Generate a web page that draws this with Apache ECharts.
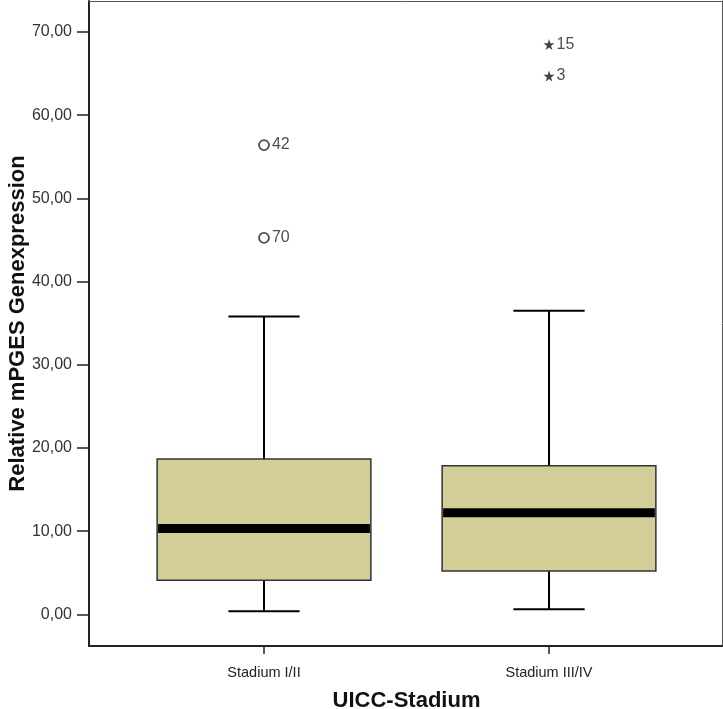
<!DOCTYPE html>
<html>
<head>
<meta charset="utf-8">
<script src="https://cdn.jsdelivr.net/npm/echarts@6/dist/echarts.min.js"></script>
<style>
  html, body { margin: 0; padding: 0; background: #fff; }
  #chart { width: 723px; height: 709px; }
</style>
</head>
<body>
<div id="chart"></div>
<script>
// Box summary per UICC stage
const categories = ['Stadium I/II', 'Stadium III/IV'];
const lowWhisker = [0.36, 0.6];
const q1 = [4.09, 5.2];
const median = [10.3, 12.2];
const q3 = [18.67, 17.85];
const highWhisker = [35.8, 36.5];

// Outlying cases (circle = outlier, star = extreme value)
const outlierCat = [0, 0, 1, 1];
const outlierVal = [56.4, 45.25, 68.5, 64.7];
const outlierId = ['42', '70', '15', '3'];
const outlierKind = ['circle', 'circle', 'star', 'star'];

const yTicks = [0, 10, 20, 30, 40, 50, 60, 70];

const FONT = '"Liberation Sans", Arial, sans-serif';
const STAR = 'path://M50,0 L61,35 L98,35 L68,57 L79,91 L50,70 L21,91 L32,57 L2,35 L39,35 Z';

const boxData = categories.map((c, i) => [i, lowWhisker[i], q1[i], median[i], q3[i], highWhisker[i]]);

function renderBox(params, api) {
  const idx = api.value(0);
  const band = api.size([1, 0])[0];
  const boxW = band * 0.75;
  const capW = band * 0.25;
  const pLow = api.coord([idx, api.value(1)]);
  const pQ1 = api.coord([idx, api.value(2)]);
  const pMed = api.coord([idx, api.value(3)]);
  const pQ3 = api.coord([idx, api.value(4)]);
  const pHigh = api.coord([idx, api.value(5)]);
  const cx = pQ1[0];
  const lineStyle = { stroke: '#000', lineWidth: 2, fill: null };
  return {
    type: 'group',
    children: [
      { type: 'line', shape: { x1: cx, y1: pQ3[1], x2: cx, y2: pHigh[1] }, style: lineStyle },
      { type: 'line', shape: { x1: cx, y1: pQ1[1], x2: cx, y2: pLow[1] }, style: lineStyle },
      { type: 'line', shape: { x1: cx - capW / 2, y1: pHigh[1], x2: cx + capW / 2, y2: pHigh[1] }, style: lineStyle },
      { type: 'line', shape: { x1: cx - capW / 2, y1: pLow[1], x2: cx + capW / 2, y2: pLow[1] }, style: lineStyle },
      {
        type: 'rect',
        shape: { x: cx - boxW / 2, y: pQ3[1], width: boxW, height: pQ1[1] - pQ3[1] },
        style: { fill: '#d3ce98', stroke: '#333', lineWidth: 1.5 }
      },
      {
        type: 'line',
        shape: { x1: cx - boxW / 2 + 1, y1: pMed[1], x2: cx + boxW / 2 - 1, y2: pMed[1] },
        style: { stroke: '#000', lineWidth: 9 }
      }
    ]
  };
}

const circleData = [];
const starData = [];
outlierVal.forEach((v, i) => {
  const item = { value: [outlierCat[i], v], name: outlierId[i] };
  (outlierKind[i] === 'circle' ? circleData : starData).push(item);
});

const outlierLabel = {
  show: true,
  position: 'right',
  distance: 2,
  formatter: p => p.name,
  fontFamily: FONT,
  fontSize: 16,
  color: '#222'
};

const chart = echarts.init(document.getElementById('chart'), null, { renderer: 'canvas' });
chart.setOption({
  animation: false,
  backgroundColor: '#fff',
  grid: [
    // outer frame of the plotting region
    { left: 89, top: 1, width: 633, height: 645, containLabel: false, outerBoundsMode: 'none' },
    // data region, categories centred on their ticks
    { left: 121.5, top: 1, width: 570, height: 645, containLabel: false, outerBoundsMode: 'none' }
  ],
  xAxis: [
    {
      gridIndex: 0, type: 'value', min: 0, max: 1, position: 'bottom',
      axisLine: { show: true, onZero: false, lineStyle: { color: '#222', width: 2 } },
      axisTick: { show: false }, axisLabel: { show: false }, splitLine: { show: false }
    },
    {
      gridIndex: 0, type: 'value', min: 0, max: 1, position: 'top',
      axisLine: { show: true, onZero: false, lineStyle: { color: '#555', width: 1 } },
      axisTick: { show: false }, axisLabel: { show: false }, splitLine: { show: false }
    },
    {
      gridIndex: 1, type: 'category', data: categories, boundaryGap: true, position: 'bottom',
      axisLine: { show: false, onZero: false },
      axisTick: { show: true, alignWithLabel: true, length: 8, lineStyle: { color: '#222', width: 1.5 } },
      axisLabel: { margin: 19, fontFamily: FONT, fontSize: 14.5, color: '#222' },
      splitLine: { show: false },
      name: 'UICC-Stadium', nameLocation: 'middle', nameGap: 44, nameMoveOverlap: false,
      nameTextStyle: { fontFamily: FONT, fontSize: 22, fontWeight: 'bold', color: '#111' }
    }
  ],
  yAxis: [
    {
      gridIndex: 0, type: 'value', min: 0, max: 1, position: 'right',
      axisLine: { show: true, onZero: false, lineStyle: { color: '#555', width: 1 } },
      axisTick: { show: false }, axisLabel: { show: false }, splitLine: { show: false }
    },
    {
      gridIndex: 1, type: 'value', min: -3.81, max: 73.72, offset: 32.5, position: 'left',
      axisLine: { show: true, onZero: false, lineStyle: { color: '#222', width: 2 } },
      axisTick: { show: true, length: 12, customValues: yTicks, lineStyle: { color: '#222', width: 1.5 } },
      axisLabel: {
        customValues: yTicks, margin: 17, fontFamily: FONT, fontSize: 16, color: '#333',
        formatter: v => v.toFixed(2).replace('.', ',')
      },
      splitLine: { show: false },
      name: 'Relative mPGES Genexpression', nameLocation: 'middle', nameGap: 60, nameRotate: 90,
      nameMoveOverlap: false,
      nameTextStyle: { fontFamily: FONT, fontSize: 22, fontWeight: 'bold', color: '#111' }
    }
  ],
  series: [
    {
      type: 'custom', xAxisIndex: 2, yAxisIndex: 1,
      renderItem: renderBox, data: boxData, silent: true
    },
    {
      type: 'scatter', xAxisIndex: 2, yAxisIndex: 1,
      symbol: 'circle', symbolSize: 10,
      itemStyle: { color: '#fff', borderColor: '#222', borderWidth: 1.8 },
      label: outlierLabel, data: circleData, silent: true
    },
    {
      type: 'scatter', xAxisIndex: 2, yAxisIndex: 1,
      symbol: STAR, symbolSize: 11,
      itemStyle: { color: '#111' },
      label: outlierLabel, data: starData, silent: true
    }
  ]
});
</script>
</body>
</html>
